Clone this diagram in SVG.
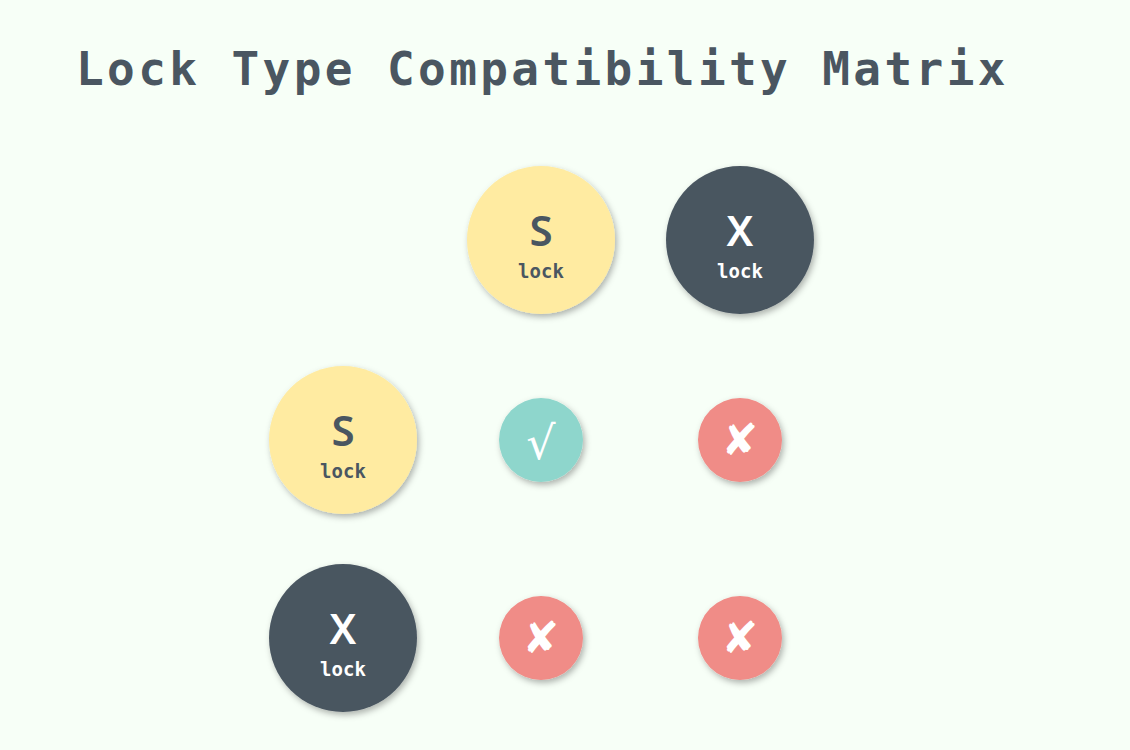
<svg xmlns="http://www.w3.org/2000/svg" width="1130" height="750" viewBox="0 0 1130 750">
<defs>
<filter id="sh" x="-30%" y="-30%" width="160%" height="160%">
<feDropShadow dx="2" dy="3" stdDeviation="3" flood-color="#000" flood-opacity="0.3"/>
</filter>
<style>
.title{font-family:"DejaVu Sans Mono","Liberation Mono",monospace;font-size:46px;font-weight:bold;fill:#4A5661;letter-spacing:3.4px}
.big{font-family:"Noto Sans","DejaVu Sans",sans-serif;font-size:42px;font-weight:600;text-anchor:middle}
.sub{font-family:"DejaVu Sans Mono","Liberation Mono",monospace;font-size:19px;font-weight:bold;text-anchor:middle}
.sym{font-family:"DejaVu Sans","Noto Sans",sans-serif;text-anchor:middle;fill:#FFFFFF}
.s{fill:#FFEBA1}
.x{fill:#4A5661}
.ok{fill:#8ED6CC}
.no{fill:#F08C87}
.dk{fill:#4A5661}
.wt{fill:#FFFFFF}
</style>
</defs>
<rect width="1130" height="750" fill="#F7FFF7"/>
<text class="title" x="76" y="85">Lock Type Compatibility Matrix</text>
<g id="connectors"></g>
<g id="col-s" filter="url(#sh)"><circle class="s" cx="541" cy="240" r="74"/></g>
<g id="col-s-t"><text class="big dk" x="541" y="246">S</text><text class="sub dk" x="541" y="278">lock</text></g>
<g id="col-x" filter="url(#sh)"><circle class="x" cx="740" cy="240" r="74"/></g>
<g id="col-x-t"><text class="big wt" x="740" y="246">X</text><text class="sub wt" x="740" y="278">lock</text></g>
<g id="row-s" filter="url(#sh)"><circle class="s" cx="343" cy="440" r="74"/></g>
<g id="row-s-t"><text class="big dk" x="343" y="446">S</text><text class="sub dk" x="343" y="478">lock</text></g>
<g id="row-x" filter="url(#sh)"><circle class="x" cx="343" cy="638" r="74"/></g>
<g id="row-x-t"><text class="big wt" x="343" y="644">X</text><text class="sub wt" x="343" y="676">lock</text></g>
<g id="ss" filter="url(#sh)"><circle class="ok" cx="541" cy="440" r="42"/></g>
<g id="ss-t"><text class="sym" x="541" y="459" font-size="46" font-family="Noto Sans, DejaVu Sans, sans-serif">√</text></g>
<g id="sx" filter="url(#sh)"><circle class="no" cx="740" cy="440" r="42"/></g>
<g id="sx-t"><text class="sym" x="740" y="455" font-size="44">✘</text></g>
<g id="xs" filter="url(#sh)"><circle class="no" cx="541" cy="638" r="42"/></g>
<g id="xs-t"><text class="sym" x="541" y="653" font-size="44">✘</text></g>
<g id="xx" filter="url(#sh)"><circle class="no" cx="740" cy="638" r="42"/></g>
<g id="xx-t"><text class="sym" x="740" y="653" font-size="44">✘</text></g>
</svg>
